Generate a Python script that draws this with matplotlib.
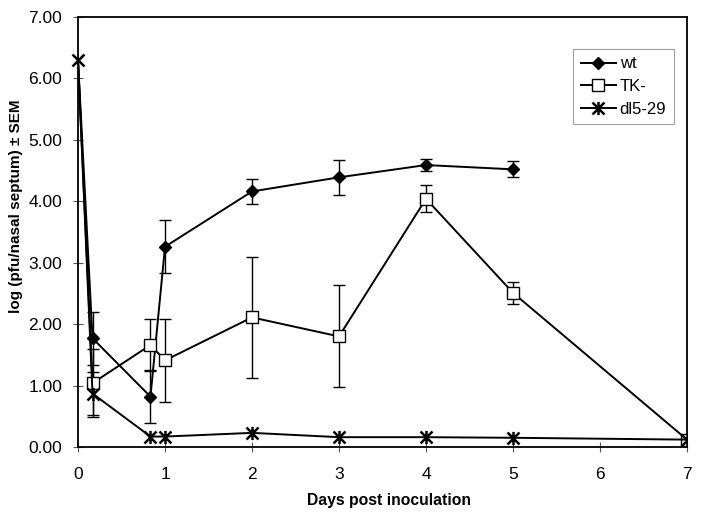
import matplotlib
matplotlib.use("Agg")
import matplotlib.pyplot as plt
from matplotlib.path import Path
import numpy as np

plt.rcParams['font.family'] = ['Liberation Sans', 'DejaVu Sans']

# Data
days_wt = [0, 0.167, 0.833, 1, 2, 3, 4, 5]
wt = [6.3, 1.77, 0.82, 3.26, 4.16, 4.39, 4.59, 4.52]
wt_err = [0, 0.43, 0.43, 0.43, 0.21, 0.29, 0.10, 0.13]

days_tk = [0, 0.167, 0.833, 1, 2, 3, 4, 5, 7]
tk = [6.3, 1.04, 1.66, 1.41, 2.11, 1.80, 4.04, 2.51, 0.12]
tk_err = [0, 0.55, 0.43, 0.67, 0.98, 0.83, 0.22, 0.18, 0]

days_dl = [0, 0.167, 0.833, 1, 2, 3, 4, 5, 7]
dl = [6.3, 0.87, 0.17, 0.17, 0.23, 0.16, 0.16, 0.15, 0.12]
dl_err = [0, 0.35, 0, 0, 0, 0, 0, 0, 0]

xticks = [0, 1, 2, 3, 4, 5, 6, 7]
yticks = [0, 1, 2, 3, 4, 5, 6, 7]

star = Path([(-1, -1), (1, 1), (-1, 1), (1, -1), (0, -1.1), (0, 1.1)],
            [Path.MOVETO, Path.LINETO, Path.MOVETO, Path.LINETO, Path.MOVETO, Path.LINETO])

fig = plt.figure(figsize=(7.16, 5.18), dpi=100)
ax = fig.add_axes([78/716, 1-447/518, (687-78)/716, (447-17)/518])

def series(x, y, e, marker, ms, mfc, label, mew=1.0):
    x = np.array(x); y = np.array(y); e = np.array(e)
    m = e > 0
    ax.errorbar(x[m], y[m], yerr=e[m], fmt='none', ecolor='black',
                elinewidth=1.0, capsize=4.5, capthick=1.0, zorder=2)
    ax.plot(x, y, color='black', lw=1.4, marker=marker, ms=ms, mfc=mfc,
            mec='black', mew=mew, markevery=list(range(1, len(x))),
            label=label, zorder=3)

series(days_wt, wt, wt_err, 'D', 6.5, 'black', 'wt')
series(days_tk, tk, tk_err, 's', 8, 'white', 'TK-')
series(days_dl, dl, dl_err, star, 9.5, 'none', 'dl5-29', mew=1.8)
# the marker at day 0 for dl5-29
ax.plot([days_dl[0]], [dl[0]], ls='none', marker='x', ms=8.5, mew=1.8, color='black', zorder=4, clip_on=False)

ax.set_xlim(0, 7)
ax.set_ylim(0, 7)
ax.set_xticks(xticks)
ax.set_yticks(yticks)
ax.set_yticklabels([f"{v:.2f}" for v in yticks])
ax.tick_params(direction='inout', length=7, width=0.8, labelsize=12.5, color='#555555')
ax.tick_params(axis='x', pad=11)
ax.tick_params(axis='y', pad=8)
for s in ax.spines.values():
    s.set_linewidth(1.3)

ax.set_xlabel('Days post inoculation', fontsize=11.3, fontweight='bold')
ax.xaxis.set_label_coords(0.51, -0.107)
ax.set_ylabel('log (pfu/nasal septum) \u00b1 SEM', fontsize=11, fontweight='bold')
ax.yaxis.set_label_coords(-0.09, 0.559)

leg = ax.legend(loc='upper left', bbox_to_anchor=((573-78)/609, (447-49)/430), fontsize=12,
                frameon=True, fancybox=False, edgecolor='#888888', handlelength=2.1,
                handletextpad=0.25, borderpad=0.45, labelspacing=0.45, borderaxespad=0)
leg.get_frame().set_linewidth(0.8)

fig.savefig('out.png', dpi=100)
